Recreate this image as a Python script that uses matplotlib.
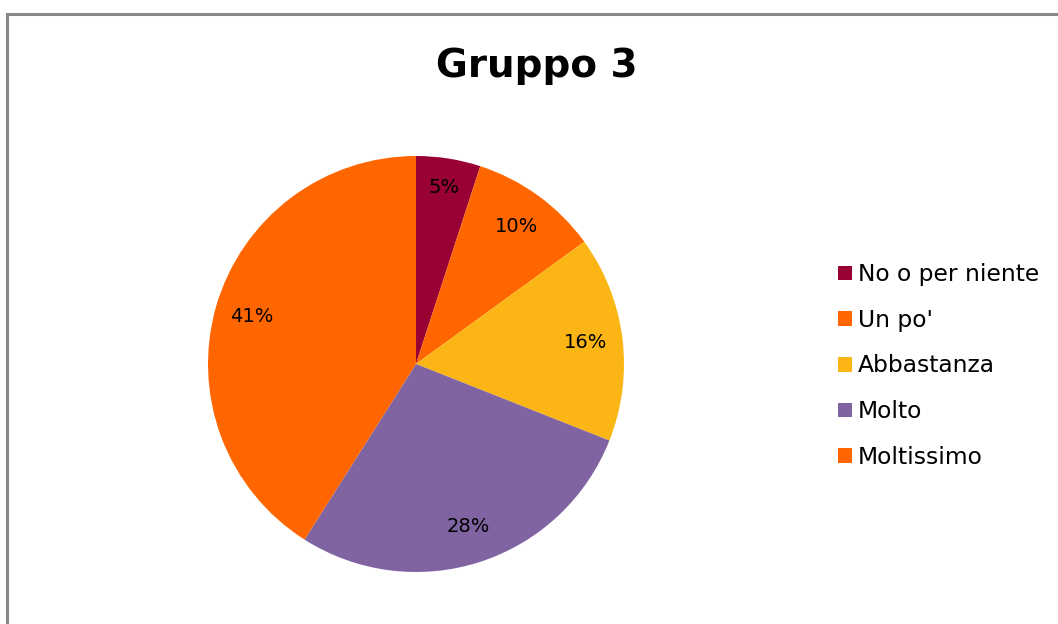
import matplotlib
matplotlib.use("Agg")
import matplotlib.pyplot as plt
import numpy as np
from matplotlib.patches import Rectangle, Patch

title = "Gruppo 3"
categories = ["No o per niente", "Un po'", "Abbastanza", "Molto", "Moltissimo"]
values = [5, 10, 16, 28, 41]
colors = ["#990033", "#FF6600", "#FBB615", "#8064A2", "#FF6600"]

W, H = 1058, 624
fig = plt.figure(figsize=(W / 100, H / 100), dpi=100)
fig.patch.set_facecolor("white")

# outer frame
fig.patches.append(Rectangle((7 / W, -0.1), 1.2, (H - 14) / H + 0.1, transform=fig.transFigure,
                             fill=False, edgecolor="#888888", linewidth=2.2))

cx, cy, r = 416, 364, 208
ax = fig.add_axes([(cx - r) / W, (H - cy - r) / H, 2 * r / W, 2 * r / H])
wedges, texts, autotexts = ax.pie(values, colors=colors, startangle=90, counterclock=False,
                                  autopct=lambda p: f"{p:.0f}%", pctdistance=0.82,
                                  wedgeprops=dict(linewidth=0),
                                  textprops=dict(fontsize=14, color="black"))
# small slice label sits a bit further out, as in the reference
w0 = wedges[0]
ang = np.deg2rad((w0.theta1 + w0.theta2) / 2)
autotexts[0].set_position((0.86 * np.cos(ang), 0.86 * np.sin(ang)))

ax.set_xlim(-1, 1)
ax.set_ylim(-1, 1)
ax.set_aspect("equal")

fig.text(537 / W, 1 - 66 / H, title, ha="center", va="center", fontsize=28, fontweight="bold")

handles = [Patch(facecolor=c, edgecolor="none") for c in colors]
fig.legend(handles, categories, loc="center left", bbox_to_anchor=(838 / W, 1 - 366 / H),
           frameon=False, fontsize=16.8, handlelength=0.6, handleheight=0.6,
           handletextpad=0.25, labelspacing=0.97, borderaxespad=0, borderpad=0)

fig.savefig("out.png", dpi=100)
